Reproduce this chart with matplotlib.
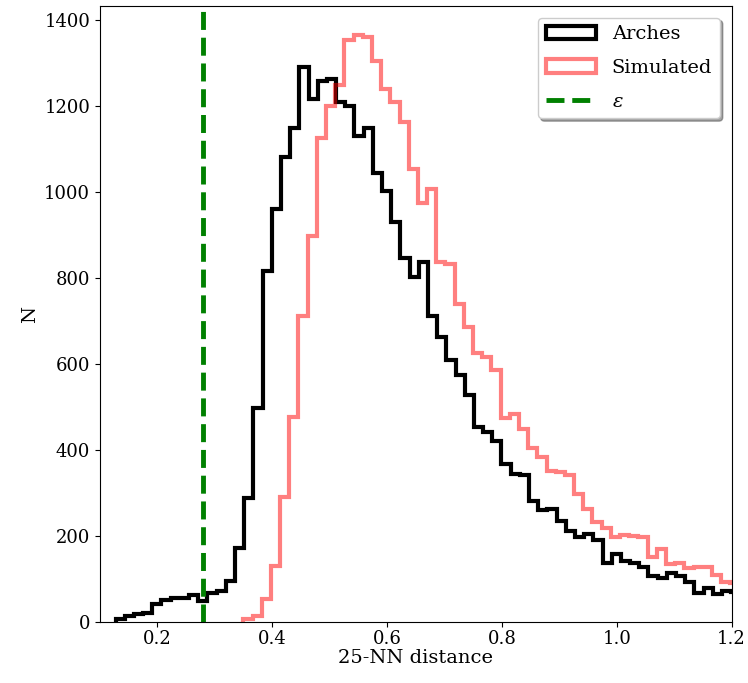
import matplotlib.pyplot as plt
import numpy as np

plt.rcParams['font.family'] = ['DejaVu Serif']
plt.rcParams['mathtext.fontset'] = 'dejavuserif'

# histogram binning (25-NN distance)
arches_start = 0.1272
sim_start = 0.3497
bin_width = 0.0160

# counts per bin
arches_counts = [6, 14, 19, 22, 41, 51, 56, 57, 62, 50,
                 68, 73, 96, 172, 288, 499, 817, 960, 1083, 1150,
                 1292, 1216, 1259, 1264, 1211, 1200, 1131, 1150, 1045, 1002,
                 931, 848, 803, 837, 713, 664, 609, 574, 529, 453,
                 442, 422, 368, 345, 341, 282, 260, 263, 236, 212,
                 197, 205, 190, 138, 158, 142, 138, 127, 107, 103,
                 115, 107, 92, 68, 80, 65, 72, 70]
sim_counts = [6, 14, 53, 130, 292, 476, 712, 898, 1126, 1201,
              1249, 1354, 1365, 1360, 1306, 1240, 1211, 1164, 1055, 974,
              1007, 838, 834, 741, 687, 625, 617, 586, 474, 485,
              450, 404, 384, 352, 348, 343, 297, 262, 232, 218,
              198, 203, 201, 197, 152, 171, 136, 137, 125, 129,
              128, 109, 94, 90]
epsilon = 0.28

arches_edges = arches_start + bin_width * np.arange(len(arches_counts) + 1)
sim_edges = sim_start + bin_width * np.arange(len(sim_counts) + 1)

fig = plt.figure(figsize=(7.48, 6.83), dpi=100)
ax = fig.add_axes([0.1336, 0.0893, 0.8445, 0.9019])

ax.hist(0.5 * (arches_edges[:-1] + arches_edges[1:]), bins=arches_edges,
        weights=arches_counts, histtype='step', color='black', lw=3,
        label='Arches')
ax.hist(0.5 * (sim_edges[:-1] + sim_edges[1:]), bins=sim_edges,
        weights=sim_counts, histtype='step', color='red', alpha=0.5, lw=3,
        label='Simulated')
ax.axvline(epsilon, color='green', ls='--', lw=3.5, label=r'$\varepsilon$')

ax.set_xlim(0.1, 1.2)
ax.set_xticks([0.2, 0.4, 0.6, 0.8, 1.0, 1.2])
ax.set_xlabel('25-NN distance', fontsize=14, labelpad=1)
ax.set_ylabel('N', fontsize=14)
ax.tick_params(labelsize=13)
ax.tick_params(axis='x', pad=2)

ax.legend(loc='upper right', fontsize=14, shadow=True, handlelength=2.6,
          labelspacing=0.8, borderaxespad=0.6)

plt.savefig('out.png', dpi=100)
